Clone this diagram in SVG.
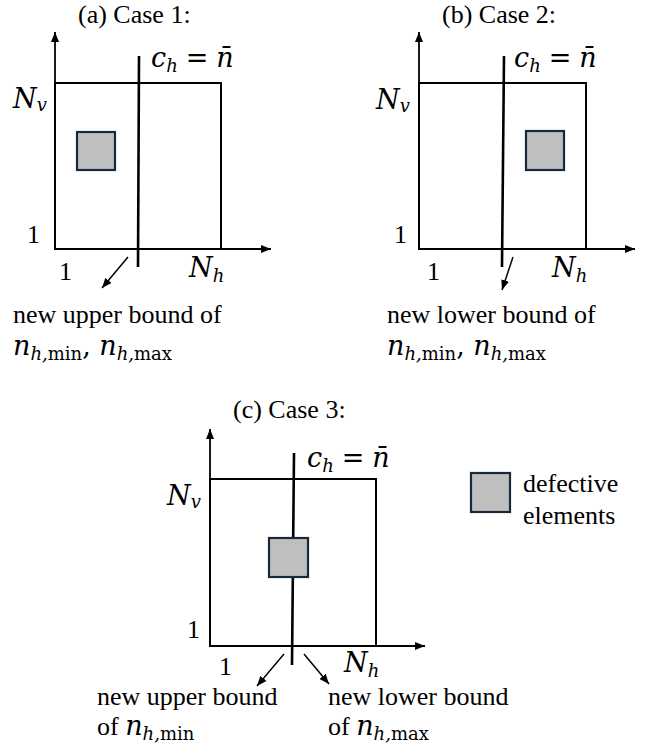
<svg xmlns="http://www.w3.org/2000/svg" width="647" height="751" viewBox="0 0 647 751">
<style>
.t{font-family:"Liberation Serif","Times New Roman",serif;font-size:26px;fill:#000}
.m{font-family:"DejaVu Serif","Liberation Serif",serif;font-style:italic;font-size:27px;fill:#000}
.s{font-size:18px}
.r{font-style:normal}
.ax{stroke:#000;stroke-width:1.8;fill:none}
.frame{fill:none;stroke:#000;stroke-width:2}
.cut{stroke:#000;stroke-width:2.6;fill:none}
.ptr{stroke:#000;stroke-width:1.5;fill:none}
.def{fill:#bfbfbf;stroke:#17293a;stroke-width:2.2}
</style>
<defs>
<marker id="ah" viewBox="0 0 10 8" refX="10" refY="4" markerWidth="10" markerHeight="8" markerUnits="userSpaceOnUse" orient="auto"><path d="M0,0 L10,4 L0,8 z" fill="#000"/></marker>
<marker id="ap" viewBox="0 0 10 8" refX="10" refY="4" markerWidth="10" markerHeight="8" markerUnits="userSpaceOnUse" orient="auto"><path d="M0,0 L10,4 L0,8 z" fill="#000"/></marker>
</defs>
<rect width="647" height="751" fill="#fff"/>

<g id="connectors">
<line class="ax" x1="55" y1="250" x2="55" y2="32" marker-end="url(#ah)"/>
<line class="ax" x1="54" y1="249" x2="271" y2="249" marker-end="url(#ah)"/>
<line class="cut" x1="139" y1="56" x2="138" y2="267"/>
<line class="ptr" x1="128" y1="257" x2="102" y2="288" marker-end="url(#ap)"/>
<line class="ax" x1="419" y1="250" x2="419" y2="32" marker-end="url(#ah)"/>
<line class="ax" x1="418" y1="249" x2="635" y2="249" marker-end="url(#ah)"/>
<line class="cut" x1="504" y1="56" x2="502" y2="267"/>
<line class="ptr" x1="513" y1="257" x2="502" y2="290" marker-end="url(#ap)"/>
<line class="ax" x1="210" y1="647" x2="210" y2="429" marker-end="url(#ah)"/>
<line class="ax" x1="209" y1="646" x2="425" y2="646" marker-end="url(#ah)"/>
<line class="cut" x1="294" y1="453" x2="292" y2="665"/>
<line class="ptr" x1="284" y1="654" x2="257" y2="686" marker-end="url(#ap)"/>
<line class="ptr" x1="304" y1="654" x2="329" y2="684" marker-end="url(#ap)"/>
</g>

<g id="panel-a">
<text class="t" x="78" y="23">(a) Case 1:</text>
<rect class="frame" x="55" y="83" width="166" height="166"/>
<rect id="defect-a" class="def" x="77" y="132" width="38" height="38"/>
<text class="m" x="151" y="67">c<tspan class="s" dy="5">h</tspan><tspan class="r" dy="-5" dx="8">=</tspan><tspan dx="8">n̄</tspan></text>
<text class="m" x="13" y="108">N<tspan class="s" dy="3">v</tspan></text>
<text class="t" x="27" y="243">1</text>
<text class="t" x="59" y="280">1</text>
<text class="m" x="189" y="277">N<tspan class="s" dy="5">h</tspan></text>
<text class="t" x="13" y="323">new upper bound of</text>
<text class="m" x="13" y="355">n<tspan class="s" dy="5">h,<tspan class="r">min</tspan></tspan><tspan class="r" dy="-5">, </tspan>n<tspan class="s" dy="5">h,<tspan class="r">max</tspan></tspan></text>
</g>

<g id="panel-b">
<text class="t" x="442" y="23">(b) Case 2:</text>
<rect class="frame" x="419" y="83" width="167" height="166"/>
<rect id="defect-b" class="def" x="526" y="131" width="38" height="39"/>
<text class="m" x="514" y="67">c<tspan class="s" dy="5">h</tspan><tspan class="r" dy="-5" dx="8">=</tspan><tspan dx="8">n̄</tspan></text>
<text class="m" x="376" y="109">N<tspan class="s" dy="3">v</tspan></text>
<text class="t" x="394" y="243">1</text>
<text class="t" x="427" y="280">1</text>
<text class="m" x="552" y="277">N<tspan class="s" dy="5">h</tspan></text>
<text class="t" x="387" y="323">new lower bound of</text>
<text class="m" x="387" y="355">n<tspan class="s" dy="5">h,<tspan class="r">min</tspan></tspan><tspan class="r" dy="-5">, </tspan>n<tspan class="s" dy="5">h,<tspan class="r">max</tspan></tspan></text>
</g>

<g id="panel-c">
<text class="t" x="233" y="418">(c) Case 3:</text>
<rect class="frame" x="210" y="479" width="166" height="167"/>
<rect id="defect-c" class="def" x="269" y="538" width="39" height="39"/>
<text class="m" x="307" y="467">c<tspan class="s" dy="5">h</tspan><tspan class="r" dy="-5" dx="8">=</tspan><tspan dx="8">n̄</tspan></text>
<text class="m" x="167" y="505">N<tspan class="s" dy="3">v</tspan></text>
<text class="t" x="187" y="638">1</text>
<text class="t" x="219" y="675">1</text>
<text class="m" x="344" y="672">N<tspan class="s" dy="5">h</tspan></text>
<text class="t" x="97" y="705">new upper bound</text>
<text class="t" x="97" y="735">of <tspan class="m">n<tspan class="s" dy="5">h,<tspan class="r">min</tspan></tspan></tspan></text>
<text class="t" x="328" y="705">new lower bound</text>
<text class="t" x="328" y="735">of <tspan class="m">n<tspan class="s" dy="5">h,<tspan class="r">max</tspan></tspan></tspan></text>
</g>

<g id="legend">
<rect class="def" x="471" y="473" width="39" height="39"/>
<text class="t" x="523" y="492">defective</text>
<text class="t" x="523" y="524">elements</text>
</g>
</svg>
